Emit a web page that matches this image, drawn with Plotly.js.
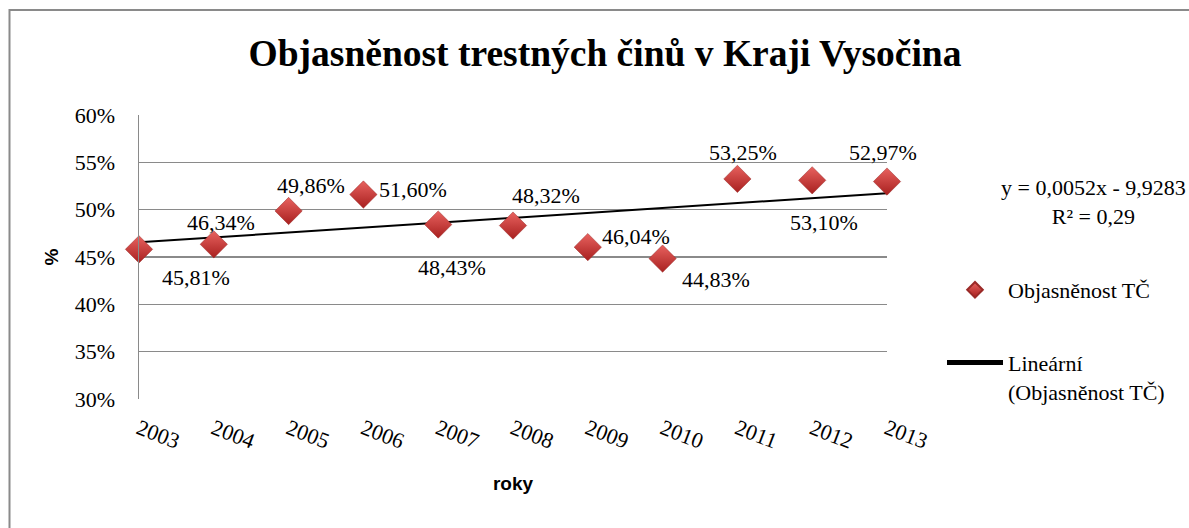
<!DOCTYPE html>
<html>
<head>
<meta charset="utf-8">
<script src="https://cdn.plot.ly/plotly-3.0.1.min.js"></script>
<style>
  html, body { margin: 0; padding: 0; background: #ffffff; overflow: hidden; }
  #chart { width: 1189px; height: 528px; }
</style>
</head>
<body>
<div id="chart"></div>
<script>
// ---- data ----
const years = [2003, 2004, 2005, 2006, 2007, 2008, 2009, 2010, 2011, 2012, 2013];
const clearance = [0.4581, 0.4634, 0.4986, 0.5160, 0.4843, 0.4832, 0.4604, 0.4483, 0.5325, 0.5310, 0.5297];
const yTicks = [0.30, 0.35, 0.40, 0.45, 0.50, 0.55, 0.60];
const yTickText = ['30%', '35%', '40%', '45%', '50%', '55%', '60%'];
const seriesName = 'Objasněnost TČ';
const trendName = 'Lineární<br>(Objasněnost TČ)';
const equationText = 'y = 0,0052x - 9,9283<br>R² = 0,29';
const chartTitle = 'Objasněnost trestných činů v Kraji Vysočina';
const xTitle = 'roky';
const yTitle = '%';

// ---- styling (label offsets in px: [xshift, yshift]) ----
const labelOffsets = [[57, -28], [7, 22], [22, 25], [50, 5], [14, -43], [33, 30], [48, 11], [53, -21], [6, 26], [12, -42], [-4, 29]];

// least-squares linear trend of the series (as in the spreadsheet's trendline)
const n = years.length;
const mx = years.reduce((a, b) => a + b, 0) / n;
const my = clearance.reduce((a, b) => a + b, 0) / n;
let sxy = 0, sxx = 0;
for (let i = 0; i < n; i++) { sxy += (years[i] - mx) * (clearance[i] - my); sxx += (years[i] - mx) ** 2; }
const slope = sxy / sxx;
const intercept = my - slope * mx;
const trendY = years.map(x => intercept + slope * x);

const fmtPct = v => (v * 100).toFixed(2).replace('.', ',') + '%';

const serif = "'Liberation Serif', 'Times New Roman', serif";
const sans = "'Liberation Sans', Arial, sans-serif";

const L = 139, R = 887, T = 115, B = 399, W = 1189, H = 528;
const px2x = p => (p - L) / (R - L);
const px2y = p => (B - p) / (B - T);

const markerTrace = {
  x: years, y: clearance, type: 'scatter', mode: 'markers', name: seriesName,
  legendgroup: 'a', legendrank: 1, cliponaxis: false,
  marker: {
    symbol: 'diamond', size: 21, color: '#e8625f',
    gradient: { type: 'vertical', color: '#a8201f' },
    line: { width: 0.5, color: '#9a2a28' }
  },
  hoverinfo: 'x+y'
};
const trendTrace = {
  x: years, y: trendY, type: 'scatter', mode: 'lines', name: trendName,
  legendgroup: 'b', legendrank: 2, cliponaxis: false,
  line: { color: '#000000', width: 2 },
  hoverinfo: 'skip'
};
// trend line drawn under the markers
const data = [trendTrace, markerTrace];

const annotations = years.map((x, i) => ({
  x: x, y: clearance[i], xref: 'x', yref: 'y',
  text: fmtPct(clearance[i]), showarrow: false,
  xshift: labelOffsets[i][0], yshift: labelOffsets[i][1],
  font: { family: serif, size: 22, color: '#000000' }
}));
annotations.push({
  xref: 'paper', yref: 'paper', x: px2x(1093), y: px2y(202),
  xanchor: 'center', yanchor: 'middle', align: 'center',
  text: equationText, showarrow: false,
  font: { family: serif, size: 22, color: '#000000' }
});

const layout = {
  width: W, height: H,
  margin: { l: L, r: W - R, t: T, b: H - B, pad: 0 },
  paper_bgcolor: '#ffffff', plot_bgcolor: '#ffffff',
  showlegend: true,
  title: {
    text: '<b>' + chartTitle + '</b>',
    font: { family: serif, size: 37.5, color: '#000000' },
    xref: 'container', yref: 'container',
    x: 605 / W, xanchor: 'center',
    y: 1 - 53 / H, yanchor: 'middle'
  },
  xaxis: {
    range: [2003, 2013], tickmode: 'array', tickvals: years, ticktext: years.map(String),
    tickangle: 21, showgrid: false, zeroline: false, showline: false, ticks: '',
    ticklabelstandoff: 12,
    tickfont: { family: serif, size: 22, color: '#000000' },
    title: { text: '<b>' + xTitle + '</b>', font: { family: sans, size: 19, color: '#000000' }, standoff: 23 },
    automargin: false, fixedrange: true
  },
  yaxis: {
    range: [0.30, 0.60], tickmode: 'array', tickvals: yTicks, ticktext: yTickText,
    showgrid: true, gridcolor: '#8a8a8a', gridwidth: 1.5,
    zeroline: false, showline: true, linecolor: '#8a8a8a', linewidth: 1.5,
    ticks: '', ticklabelstandoff: 18,
    tickfont: { family: serif, size: 22, color: '#000000' },
    title: { text: '<b>' + yTitle + '</b>', font: { family: sans, size: 19, color: '#000000' }, standoff: 11 },
    automargin: false, fixedrange: true
  },
  legend: {
    x: px2x(942), y: px2y(269), xanchor: 'left', yanchor: 'top',
    bgcolor: 'rgba(0,0,0,0)', borderwidth: 0,
    font: { family: serif, size: 22, color: '#000000' },
    traceorder: 'grouped', tracegroupgap: 41,
    itemsizing: 'constant', valign: 'top', itemwidth: 56
  },
  shapes: [{
    type: 'rect', xref: 'paper', yref: 'paper',
    x0: px2x(9.5), x1: px2x(1300), y0: px2y(700), y1: px2y(10),
    line: { color: '#8a8a8a', width: 2 }, fillcolor: 'rgba(0,0,0,0)', layer: 'below'
  }],
  annotations: annotations
};

Plotly.newPlot('chart', data, layout, { displayModeBar: false, staticPlot: true });
</script>
</body>
</html>
